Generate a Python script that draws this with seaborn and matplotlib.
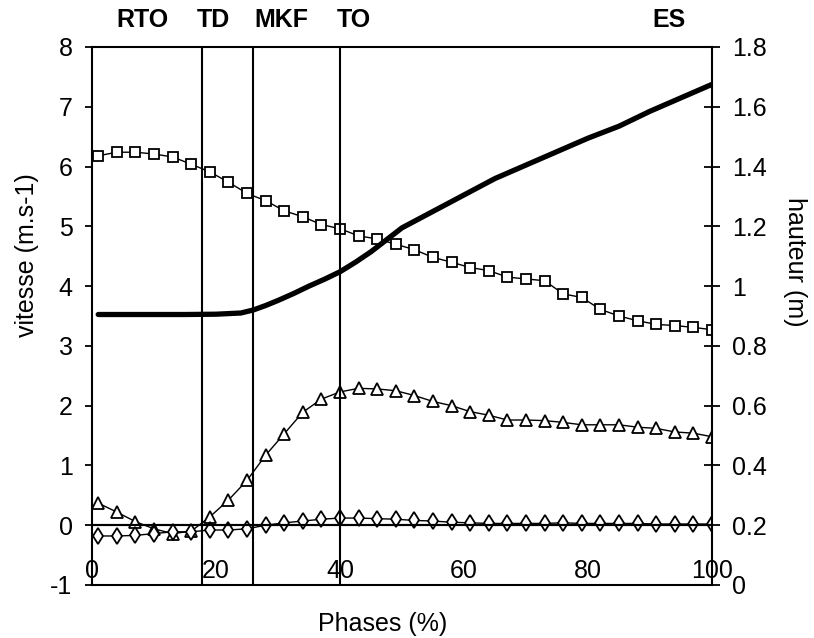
import matplotlib
matplotlib.use("Agg")
import matplotlib.pyplot as plt
import matplotlib.transforms as mtransforms
import seaborn as sns
import numpy as np
import pandas as pd

sns.set_style("white")
plt.rcParams["font.family"] = ["Liberation Sans", "DejaVu Sans"]
plt.rcParams["axes.unicode_minus"] = False
plt.rcParams["text.color"] = "black"
plt.rcParams["axes.labelcolor"] = "black"
plt.rcParams["xtick.color"] = "black"
plt.rcParams["ytick.color"] = "black"
plt.rcParams["axes.edgecolor"] = "black"

# phase (%) for the marker series
phase = list(range(1, 101, 3))

# horizontal speed (squares), m/s
v_horiz = [6.18, 6.24, 6.24, 6.21, 6.16, 6.04, 5.91, 5.74, 5.55, 5.43, 5.26, 5.16,
           5.03, 4.96, 4.84, 4.79, 4.70, 4.61, 4.48, 4.40, 4.31, 4.26, 4.15, 4.12,
           4.09, 3.87, 3.81, 3.61, 3.50, 3.42, 3.36, 3.34, 3.31, 3.27]

# vertical speed (triangles), m/s
v_vert = [0.37, 0.22, 0.06, -0.06, -0.14, -0.10, 0.14, 0.42, 0.75, 1.17, 1.53, 1.89,
          2.11, 2.23, 2.29, 2.28, 2.25, 2.17, 2.07, 2.00, 1.90, 1.84, 1.76, 1.76,
          1.75, 1.72, 1.68, 1.68, 1.68, 1.64, 1.62, 1.56, 1.54, 1.48]

# lateral speed (diamonds), m/s
v_lat = [-0.18, -0.18, -0.17, -0.14, -0.11, -0.11, -0.08, -0.08, -0.06, 0.0, 0.04, 0.07,
         0.10, 0.12, 0.12, 0.11, 0.10, 0.08, 0.07, 0.05, 0.04, 0.03, 0.03, 0.03,
         0.03, 0.04, 0.03, 0.03, 0.03, 0.03, 0.02, 0.02, 0.02, 0.02]

# centre of mass height (thick line, right axis), m
phase_h = [1, 5, 10, 15, 20, 24, 26, 28, 30, 32.5, 35, 37.5, 40, 42.5, 45, 47.5, 50,
           55, 60, 65, 70, 75, 80, 85, 90, 95, 100]
hauteur = [0.905, 0.905, 0.905, 0.905, 0.906, 0.91, 0.92, 0.935, 0.952, 0.975, 1.0,
           1.023, 1.048, 1.08, 1.115, 1.155, 1.195, 1.25, 1.305, 1.36, 1.405, 1.45,
           1.495, 1.535, 1.585, 1.63, 1.675]

# phase events
event_pos = [17.7, 26, 40]
event_names = ["RTO", "TD", "MKF", "TO", "ES"]
event_label_x = [8.2, 19.5, 30.6, 42.3, 93]

right_ticks = [0, 0.2, 0.4, 0.6, 0.8, 1.0, 1.2, 1.4, 1.6, 1.8]
right_labels = ["0", "0.2", "0.4", "0.6", "0.8", "1", "1.2", "1.4", "1.6", "1.8"]

df = pd.DataFrame({"phase": phase, "vh": v_horiz, "vv": v_vert, "vl": v_lat})
dh = pd.DataFrame({"phase": phase_h, "h": hauteur})

W, H = 814, 638
fig = plt.figure(figsize=(W / 100, H / 100), dpi=100)
ax = fig.add_axes([92 / W, 53 / H, 620 / W, 538 / H])

mk = dict(color="black", linewidth=1, markerfacecolor="white",
          markeredgecolor="black", markeredgewidth=1.3)
sns.lineplot(data=df, x="phase", y="vh", marker="s", markersize=7, ax=ax, **mk)
sns.lineplot(data=df, x="phase", y="vv", marker="^", markersize=8, ax=ax, **mk)
sns.lineplot(data=df, x="phase", y="vl", marker="d", markersize=8, ax=ax, **mk)

for xe in event_pos:
    ax.axvline(xe, color="black", linewidth=1.5)
ax.axhline(0, color="black", linewidth=1.5)

ax.set_xlim(0, 100)
ax.set_ylim(-1, 8)
ax.set_xticks(range(0, 101, 20))
ax.set_yticks(range(-1, 9))
ax.spines["bottom"].set_position(("data", 0))
for s in ["top", "right"]:
    ax.spines[s].set_visible(False)
ax.spines["left"].set_linewidth(1.5)
ax.spines["bottom"].set_linewidth(1.5)
ax.tick_params(axis="x", direction="out", length=7, width=1.3, pad=17, labelsize=18)
ax.tick_params(axis="y", direction="out", length=5, width=1.3, pad=9, labelsize=18, left=True)

ax.set_xlabel("Phases (%)", fontsize=18)
ax.xaxis.set_label_coords(0.469, -0.05)
ax.set_ylabel("vitesse (m.s-1)", fontsize=18, rotation=90, rotation_mode="default",
              ha="center", va="center")
ax.yaxis.set_label_coords(-0.105, 0.613)

ax2 = ax.twinx()
sns.lineplot(data=dh, x="phase", y="h", color="black", linewidth=3.8, ax=ax2)
ax2.set_ylim(0, 1.8)
ax2.set_yticks(right_ticks)
ax2.set_yticklabels(right_labels)
for s in ["top", "right", "bottom"]:
    ax2.spines[s].set_visible(True)
    ax2.spines[s].set_linewidth(1.5)
ax2.spines["left"].set_visible(False)
ax2.tick_params(axis="y", direction="inout", length=11, width=1.3, pad=9, labelsize=18, right=True)
ax2.set_ylabel("hauteur (m)", fontsize=18, rotation=270, rotation_mode="default",
               ha="center", va="center")
ax2.yaxis.set_label_coords(1.134, 0.60)
ax2.set_xlabel("")

trans = mtransforms.blended_transform_factory(ax.transData, ax.transAxes)
for name, xl in zip(event_names, event_label_x):
    ax2.text(xl, 1.05, name, transform=trans, ha="center", va="center",
             fontsize=18, fontweight="bold",
             family=["Liberation Sans Narrow", "Liberation Sans", "DejaVu Sans"])

fig.savefig("out.png", dpi=100)
